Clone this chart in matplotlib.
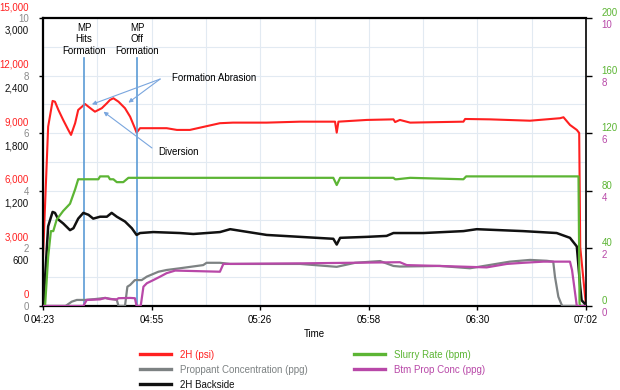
"""Frac stage plot: 2H pressure, backside, slurry rate and proppant concentrations vs time."""

import numpy as np
import matplotlib

matplotlib.use("Agg")
import matplotlib.pyplot as plt
from matplotlib.transforms import ScaledTranslation, blended_transform_factory

plt.rcParams["font.family"] = ["Liberation Sans", "DejaVu Sans"]
FS = 7

# time in minutes after 04:23
TIME_LABELS = ["04:23", "04:55", "05:26", "05:58", "06:30", "07:02"]
T_END = 159

# 2H (psi)
RED_T = [0, 1.5, 2.8, 3.5, 4.5, 5.9, 7.4, 8.2, 9.4, 10.3, 12.3, 13.8, 15.2, 17.2, 18.7, 19.6,
         20.6, 22.1, 24.0, 25.5, 26.9, 27.4, 28.4, 31.3, 36.2, 39.2, 43.0, 51.8, 55.6, 65.5,
         75.3, 85.5, 86.0, 86.5, 94.8, 102.6, 103.1, 104.5, 107.5, 123.1, 123.6, 130.9, 142.6,
         151.4, 152.4, 154.3, 156.3, 157.0, 157.3, 159]
RED_V = [2550, 9340, 10680, 10640, 10210, 9690, 9170, 8910, 9520, 10210, 10520, 10310, 10120,
         10300, 10560, 10730, 10820, 10640, 10300, 9860, 9260, 9030, 9260, 9260, 9260, 9170,
         9170, 9520, 9550, 9550, 9600, 9600, 9030, 9600, 9690, 9720, 9580, 9690, 9550, 9600,
         9740, 9720, 9650, 9780, 9830, 9430, 9170, 9010, 3070, 0]

# 2H Backside
BLACK_T = [0, 0.1, 1.5, 2.1, 2.8, 3.5, 4.5, 5.9, 7.9, 8.9, 10.3, 11.8, 13.3, 14.7, 16.7, 18.7,
           20.1, 21.6, 24.0, 26.0, 27.4, 28.4, 32.3, 40.1, 44.0, 51.8, 54.8, 65.5, 75.3, 85.0,
           86.0, 87.0, 94.8, 100.6, 102.6, 104.5, 111.4, 123.1, 127.0, 140.6, 150.4, 154.3,
           156.3, 157.3, 157.7, 159]
BLACK_V = [0, 0, 830, 900, 980, 970, 900, 860, 790, 810, 910, 970, 950, 910, 930, 930, 970,
           930, 880, 810, 740, 760, 770, 760, 750, 770, 800, 740, 720, 700, 640, 710, 720, 730,
           760, 760, 760, 780, 800, 780, 760, 710, 620, 200, 60, 10]

# Slurry Rate (bpm)
GREEN_T = [0, 0.6, 1.5, 2.3, 3.0, 4.0, 5.9, 7.9, 9.4, 10.3, 16.2, 16.7, 19.1, 19.6, 20.6, 21.6,
           23.5, 25.0, 27.4, 38.2, 51.8, 85.0, 86.0, 87.0, 102.6, 103.1, 103.6, 107.5, 123.1,
           123.9, 156.8, 157.1, 157.3, 159]
GREEN_V = [0, 0, 34, 52, 52, 60, 66, 71, 81, 88, 88, 90, 90, 88, 88, 86, 86, 89, 89, 89, 89,
           89, 84, 89, 89, 88, 88, 89, 88, 90, 90, 2, 0, 0]

# Proppant Concentration (ppg)
PROP_T = [0, 6.6, 8.4, 9.9, 12.3, 15.2, 18.2, 21.6, 22.1, 24.0, 24.7, 25.5, 26.9, 28.9, 30.4,
          33.8, 36.2, 40.1, 46.9, 47.9, 51.8, 54.8, 75.3, 86.0, 91.4, 98.7, 102.6, 104.5, 116.2,
          125.0, 136.7, 142.6, 147.5, 149.4, 149.9, 150.9, 151.9, 152.0, 159]
PROP_V = [0, 0, 0.15, 0.21, 0.21, 0.24, 0.28, 0.21, 0, 0, 0.67, 0.73, 0.90, 0.90, 1.02, 1.19,
          1.25, 1.31, 1.42, 1.50, 1.50, 1.46, 1.46, 1.36, 1.50, 1.56, 1.39, 1.37, 1.39, 1.31,
          1.54, 1.60, 1.57, 1.54, 1.02, 0.32, 0.03, 0, 0]

# Btm Prop Conc (ppg)
BTM_T = [0, 11.8, 12.8, 16.7, 18.2, 19.6, 21.6, 22.1, 25.5, 26.9, 27.4, 28.6, 29.4, 30.4, 32.3,
         34.3, 36.2, 38.7, 51.8, 52.8, 75.3, 104.5, 106.5, 116.2, 129.9, 135.8, 140.6, 146.5,
         154.3, 154.9, 156.3, 159]
BTM_V = [0, 0, 0.21, 0.23, 0.28, 0.24, 0.23, 0.27, 0.28, 0.27, 0, 0, 0.67, 0.79, 0.90, 1.02,
         1.14, 1.23, 1.19, 1.46, 1.48, 1.52, 1.42, 1.39, 1.34, 1.46, 1.50, 1.54, 1.54, 1.25, 0, 0]

MP_HITS_T = 12.0
MP_OFF_T = 27.5

RED = "#ff2020"
BLACK = "#111111"
GREEN = "#5cb534"
GRAY = "#7d8283"
MAGENTA = "#b848a8"
BLUE = "#5b9bd5"
ARROW = "#7aa6de"


def shift_labels(axis, dy_pt, fig):
    off = ScaledTranslation(0, dy_pt / 72, fig.dpi_scale_trans)
    for lab in axis.get_ticklabels():
        lab.set_transform(lab.get_transform() + off)


def main() -> None:
    fig = plt.figure(figsize=(6.2, 3.9), dpi=100)
    ax = fig.add_axes([0.0694, 0.2154, 0.8758, 0.7385])
    ax_prop = ax.twinx()
    ax_back = ax.twinx()
    ax_rate = ax.twinx()
    ax_btm = ax.twinx()

    for a in (ax_prop, ax_back, ax_rate, ax_btm):
        for s in a.spines.values():
            s.set_visible(False)
        a.patch.set_visible(False)
    for a in (ax_prop, ax_back):
        a.yaxis.set_ticks_position("left")

    ln_red, = ax.plot(RED_T, RED_V, color=RED, lw=1.5, label="2H (psi)")
    ln_prop, = ax_prop.plot(PROP_T, PROP_V, color=GRAY, lw=1.6, label="Proppant Concentration (ppg)")
    ln_btm, = ax_btm.plot(BTM_T, BTM_V, color=MAGENTA, lw=1.6, label="Btm Prop Conc (ppg)")
    ln_rate, = ax_rate.plot(GREEN_T, GREEN_V, color=GREEN, lw=1.6, label="Slurry Rate (bpm)")
    ln_back, = ax_back.plot(BLACK_T, BLACK_V, color=BLACK, lw=1.8, label="2H Backside")

    scales = [
        (ax, 15000, 3000),
        (ax_prop, 10, 2),
        (ax_back, 3000, 600),
        (ax_rate, 200, 40),
        (ax_btm, 10, 2),
    ]
    for a, top, step in scales:
        ticks = np.arange(0, top + step, step)
        a.set_ylim(0, top)
        a.set_yticks(ticks)
        a.set_yticklabels([f"{v:,}" for v in ticks])

    ax.set_xlim(0, T_END)
    xt = np.linspace(0, T_END, len(TIME_LABELS))
    ax.set_xticks(xt)
    ax.set_xticklabels(TIME_LABELS)
    ax.set_xticks((xt[:-1] + xt[1:]) / 2, minor=True)
    ax.set_yticks(np.arange(1500, 15000, 3000), minor=True)
    ax.grid(True, which="both", color="#e2eaf2", lw=0.8)
    ax.set_axisbelow(True)

    ax.tick_params(axis="x", direction="out", length=3, width=1, pad=3.6, labelsize=FS)
    ax.tick_params(which="minor", length=0)
    ax.tick_params(axis="y", direction="out", length=3, width=1, pad=7.2,
                   labelsize=FS, labelcolor=RED)
    ax_prop.tick_params(axis="y", length=0, pad=10.2, labelsize=FS, labelcolor="#8a8a8a")
    ax_back.tick_params(axis="y", length=0, pad=10.2, labelsize=FS, labelcolor=BLACK)
    ax_rate.tick_params(axis="y", direction="out", length=4.3, width=1, pad=7,
                        labelsize=FS, labelcolor=GREEN)
    ax_btm.tick_params(axis="y", length=0, pad=11.3, labelsize=FS, labelcolor=MAGENTA)

    shift_labels(ax.yaxis, 8.6, fig)
    shift_labels(ax_back.yaxis, -8.6, fig)
    shift_labels(ax_rate.yaxis, 4.3, fig)
    shift_labels(ax_btm.yaxis, -4.3, fig)

    for side in ("left", "bottom", "top"):
        ax.spines[side].set_linewidth(1.6)
        ax.spines[side].set_color("black")
    ax.spines["right"].set_linewidth(1.2)

    ax.set_xlabel("Time", fontsize=FS, labelpad=3)

    # stage markers
    trans = blended_transform_factory(ax.transData, ax.transAxes)
    for t, txt in [(MP_HITS_T, "MP\nHits\nFormation"), (MP_OFF_T, "MP\nOff\nFormation")]:
        ax.axvline(t, ymin=0, ymax=0.861, color=BLUE, lw=1.2)
        ax.text(t, 0.983, txt, transform=trans, ha="center", va="top",
                fontsize=FS, linespacing=1.2)

    ax.text(37.8, 11870, "Formation Abrasion", fontsize=FS, va="center", ha="left")
    ax.text(33.7, 8020, "Diversion", fontsize=FS, va="center", ha="left")
    arrow = dict(arrowstyle="-|>", color=ARROW, lw=0.8, mutation_scale=6,
                 shrinkA=0, shrinkB=0)
    ax.annotate("", xy=(14.3, 10500), xytext=(34.3, 11820), arrowprops=arrow)
    ax.annotate("", xy=(25.0, 10590), xytext=(34.3, 11820), arrowprops=arrow)
    ax.annotate("", xy=(17.7, 10120), xytext=(31.9, 8230), arrowprops=arrow)

    handles = [ln_red, ln_prop, ln_back, ln_rate, ln_btm]
    leg = fig.legend(handles, [h.get_label() for h in handles], ncol=2, loc="upper left",
                     bbox_to_anchor=(0.2258, 0.1033), frameon=False, fontsize=FS,
                     handlelength=3.2, handletextpad=0.88, columnspacing=4.8,
                     labelspacing=0.52, borderpad=0, borderaxespad=0,
                     labelcolor="linecolor")
    for h in leg.legend_handles:
        h.set_linewidth(2.4)

    fig.savefig("out.png", dpi=100)


if __name__ == "__main__":
    main()
